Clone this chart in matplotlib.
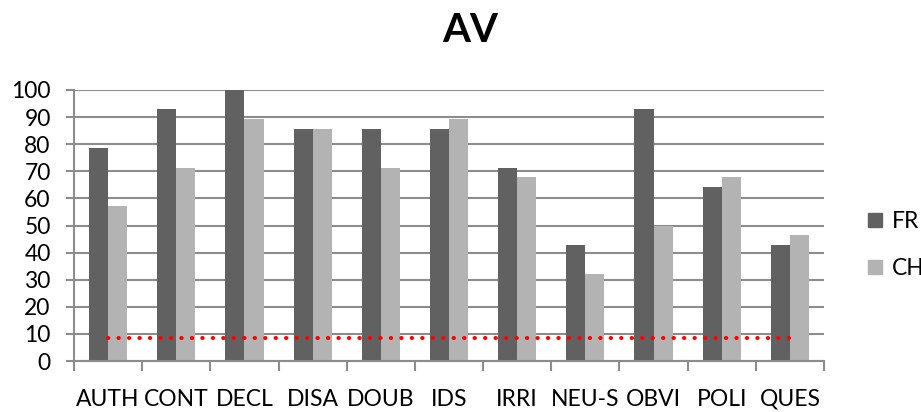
import numpy as np
import matplotlib
matplotlib.use('Agg')
from matplotlib import pyplot as plt
from matplotlib.lines import Line2D

plt.rcParams['font.family'] = ['Lato', 'DejaVu Sans']

categories = ['AUTH', 'CONT', 'DECL', 'DISA', 'DOUB', 'IDS', 'IRRI', 'NEU-S', 'OBVI', 'POLI', 'QUES']
fr = [78.6, 92.9, 100, 85.7, 85.7, 85.7, 71.4, 42.9, 92.9, 64.3, 42.9]
ch = [57.1, 71.4, 89.3, 85.7, 71.4, 89.3, 67.9, 32.1, 50.0, 67.9, 46.4]
threshold = 8.5

x = np.arange(len(categories))
bar_width = 0.28
grid_color = '#8c8c8c'

fig = plt.figure(figsize=(9.21, 4.12), dpi=100)
ax = fig.add_axes([74 / 921, 1 - 361 / 412, 750 / 921, 271 / 412])

ax.bar(x - bar_width / 2, fr, bar_width, color='#616161', label='FR', zorder=2)
ax.bar(x + bar_width / 2, ch, bar_width, color='#b3b3b3', label='CH', zorder=2)
ax.plot([x[0], x[-1]], [threshold, threshold], color='red', linestyle=(0, (0.1, 2.5)),
        linewidth=2.9, dash_capstyle='round', zorder=3)

ax.set_xlim(-0.5, len(categories) - 0.5)
ax.set_ylim(0, 100)
ax.set_yticks(np.arange(0, 101, 10))
ax.yaxis.grid(True, color=grid_color, linewidth=1.5, zorder=0)
ax.set_axisbelow(True)

ax.set_xticks(np.arange(-0.5, len(categories), 1))
ax.set_xticklabels([])
ax.set_xticks(x, minor=True)
ax.set_xticklabels(categories, minor=True)
ax.tick_params(axis='x', which='major', length=7.5, width=1.5, color=grid_color)
ax.tick_params(axis='x', which='minor', length=0, pad=20, labelsize=16.5)
ax.tick_params(axis='y', length=5.8, width=1.5, color=grid_color, labelsize=16.5, pad=11)

for s in ['top', 'right']:
    ax.spines[s].set_visible(False)
for s in ['left', 'bottom']:
    ax.spines[s].set_color(grid_color)
    ax.spines[s].set_linewidth(1.5)

fig.text(470 / 921, 1 - 31 / 412, 'AV', ha='center', va='center', fontsize=29, fontweight='bold')

handles = [Line2D([], [], marker='s', linestyle='', markersize=10, color='#616161'),
           Line2D([], [], marker='s', linestyle='', markersize=10, color='#b3b3b3')]
fig.legend(handles, ['FR', 'CH'], loc='center left', bbox_to_anchor=(846 / 921, 1 - 245 / 412),
           frameon=False, fontsize=16.5, handlelength=0.7, handletextpad=0.4, labelspacing=1.1)

fig.savefig('out.png', dpi=100)
